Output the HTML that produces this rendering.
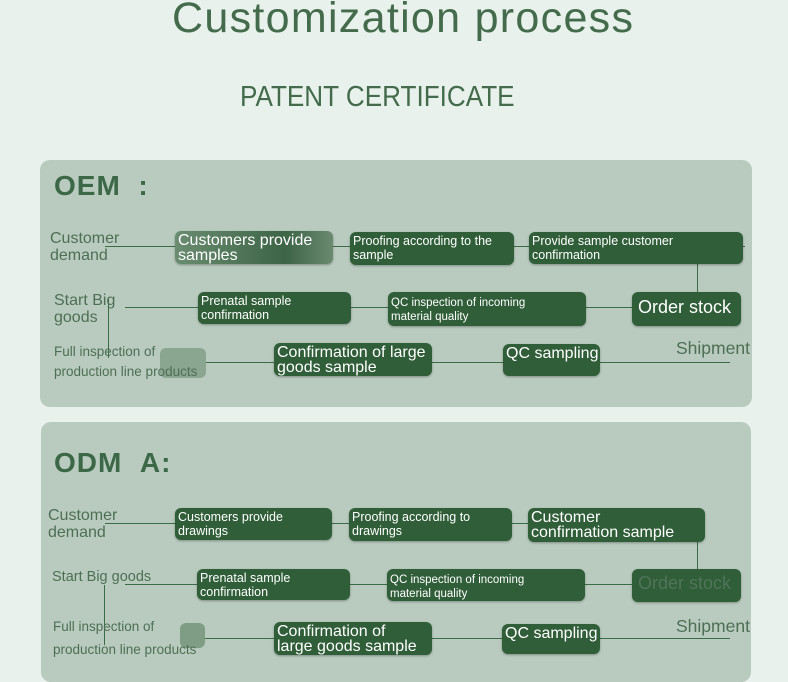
<!DOCTYPE html>
<html><head><meta charset="utf-8"><style>
*{margin:0;padding:0;box-sizing:border-box}
body{width:788px;height:664px;overflow:hidden;background:#e8f1eb;font-family:"Liberation Sans",sans-serif;position:relative}
.a{position:absolute;white-space:nowrap}
.t{color:#436b4c}
.panel{position:absolute;background:#b8cbbe;border-radius:10px}
.b{position:absolute;background:#2f5e38;border-radius:6px;color:#fff;font-size:12.5px;line-height:14px;padding:2px 3px;box-shadow:0 1px 2px rgba(0,0,0,.3);white-space:nowrap;overflow:visible}
.big{font-size:16px;line-height:15px}
.l{position:absolute;background:#3d6a47}
.lab{position:absolute;color:#4e6f55;font-size:16px;line-height:17px;white-space:nowrap}
.sm{font-size:13.5px;line-height:20px}
.h{position:absolute;color:#3c6848;font-weight:bold;font-size:28px;letter-spacing:1px}
</style></head><body>
<div class="a t" style="left:172px;top:-6px;font-size:43px;letter-spacing:1.3px">Customization process</div>
<div class="a t" style="left:240px;top:81px;font-size:29px;transform:scaleX(.9);transform-origin:left">PATENT CERTIFICATE</div>

<div class="panel" style="left:40px;top:160px;width:712px;height:247px"></div>
<div class="h" style="left:54px;top:170px">OEM &nbsp;:</div>
<div class="l" style="left:105px;top:246px;width:640px;height:1px"></div>
<div class="l" style="left:697px;top:264px;width:1px;height:30px"></div>
<div class="l" style="left:125px;top:307px;width:520px;height:1px"></div>
<div class="l" style="left:108px;top:298px;width:1px;height:60px"></div>
<div class="l" style="left:200px;top:362px;width:530px;height:1px"></div>
<div class="b big" style="left:175px;top:231px;width:158px;height:33px;background:linear-gradient(90deg,#6a8c70,#3d6447 70%,#6b8a70)">Customers provide<br>samples</div>
<div class="b" style="left:350px;top:232px;width:164px;height:33px">Proofing according to the<br>sample</div>
<div class="b" style="left:529px;top:232px;width:214px;height:32px">Provide sample customer<br>confirmation</div>
<div class="b" style="left:198px;top:292px;width:153px;height:32px">Prenatal sample<br>confirmation</div>
<div class="b" style="left:388px;top:292px;width:198px;height:34px;font-size:11.5px;padding-top:4px">QC inspection of incoming<br>material quality</div>
<div class="b" style="left:632px;top:292px;width:109px;height:34px;font-size:18px;line-height:26px;padding:2px 6px">Order stock</div>
<div class="b big" style="left:274px;top:343px;width:158px;height:33px">Confirmation of large<br>goods sample</div>
<div class="b big" style="left:503px;top:344px;width:97px;height:32px">QC sampling</div>
<div class="b" style="left:160px;top:348px;width:46px;height:30px;background:#8aa690;box-shadow:none"></div>
<div class="lab" style="left:50px;top:230px">Customer<br>demand</div>
<div class="lab" style="left:54px;top:292px">Start Big<br>goods</div>
<div class="lab sm" style="left:54px;top:342px">Full inspection of<br>production line products</div>
<div class="lab" style="left:676px;top:340px;font-size:17.5px">Shipment</div>

<div class="panel" style="left:41px;top:422px;width:710px;height:260px"></div>
<div class="h" style="left:54px;top:447px">ODM &nbsp;A:</div>
<div class="l" style="left:105px;top:523px;width:600px;height:1px"></div>
<div class="l" style="left:697px;top:540px;width:1px;height:32px"></div>
<div class="l" style="left:125px;top:584px;width:520px;height:1px"></div>
<div class="l" style="left:104px;top:585px;width:1px;height:60px"></div>
<div class="l" style="left:200px;top:638px;width:530px;height:1px"></div>
<div class="b" style="left:175px;top:508px;width:157px;height:32px">Customers provide<br>drawings</div>
<div class="b" style="left:349px;top:508px;width:163px;height:33px">Proofing according to<br>drawings</div>
<div class="b big" style="left:528px;top:508px;width:177px;height:34px">Customer<br>confirmation sample</div>
<div class="b" style="left:197px;top:569px;width:153px;height:31px">Prenatal sample<br>confirmation</div>
<div class="b" style="left:387px;top:569px;width:198px;height:32px;font-size:11.5px;padding-top:4px">QC inspection of incoming<br>material quality</div>
<div class="b" style="left:632px;top:569px;width:109px;height:33px;font-size:18px;line-height:24px;color:#4f7458;padding:2px 6px">Order stock</div>
<div class="b big" style="left:274px;top:622px;width:158px;height:33px">Confirmation of<br>large goods sample</div>
<div class="b big" style="left:502px;top:624px;width:98px;height:30px">QC sampling</div>
<div class="b" style="left:180px;top:623px;width:25px;height:25px;background:#7f9c85;box-shadow:none"></div>
<div class="lab" style="left:48px;top:507px">Customer<br>demand</div>
<div class="lab sm" style="left:52px;top:567px;font-size:14.5px">Start Big goods</div>
<div class="lab sm" style="left:53px;top:615px;line-height:23px">Full inspection of<br>production line products</div>
<div class="lab" style="left:676px;top:618px;font-size:17.5px">Shipment</div>
</body></html>
